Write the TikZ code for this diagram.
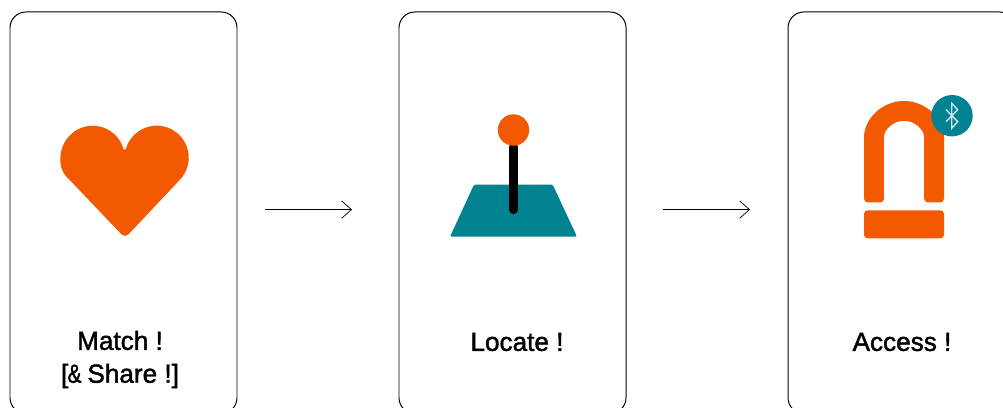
\documentclass[tikz,border=0pt]{standalone}
\usepackage{fontspec}
\setmainfont[FakeBold=1.6]{Liberation Sans}
\usetikzlibrary{arrows.meta}
\definecolor{cardorange}{HTML}{F35900}
\definecolor{cardteal}{HTML}{008291}
\definecolor{btlight}{HTML}{CDE6E9}
\tikzset{
  card/.style={draw=black,line width=0.7pt,rounded corners=11.3pt,minimum width=56.75mm,minimum height=100.4mm,inner sep=0,outer sep=0},
  cardtext/.style={align=center,font=\fontsize{18.6}{23.4}\selectfont},
  flow/.style={line width=0.5pt,-{Straight Barb[length=7pt,width=12.4pt]}}
}
\begin{document}
\begin{tikzpicture}[x=0.25mm,y=0.25mm]
\useasboundingbox (0,0) rectangle (1003,407);
%Match
\node[card] (match) at (123.5,194.2) {};
\node[cardtext] (matchtext) at (120,47.5) {Match !\\{[}\kern-0.5pt\scalebox{0.8}[1]{\&}\kern-1pt{} Share !{]}};
\fill[cardorange] (125.8,257.6) arc (165:-45:32) [rounded corners=3.5pt] -- (125,169) -- (70.1,226.6) [sharp corners] arc (225:15:32) -- cycle;
%Locate
\node[card] (locate) at (512.5,194.2) {};
\node[cardtext] (locatetext) at (517,65) {Locate !};
\fill[cardteal,rounded corners=1pt] (474,222.3) -- (552.7,222.3) -- (577,170.3) -- (450,170.3) -- cycle;
\draw[black,line width=6.6pt,line cap=round] (513.7,260) -- (513.7,197.5);
\node[circle,fill=cardorange,minimum size=31.4*0.25mm,inner sep=0] (ball) at (513.5,277) {};
%Access
\node[card] (access) at (901.5,194.2) {};
\node[cardtext] (accesstext) at (902,65) {Access !};
\fill[cardorange,rounded corners=2.5pt] (864,204.7) -- (864,266) arc (180:0:40) -- (944,204.7) -- (924.2,204.7) -- (924.2,266) arc (0:180:20.2) -- (884,204.7) -- cycle;
\fill[cardorange,rounded corners=2.5pt] (864,168.7) rectangle (944,196.7);
\node[circle,fill=cardteal,minimum size=41.4*0.25mm,inner sep=0] (badge) at (952,291.3) {};
\draw[btlight,line width=1pt] (946,285.3) -- (957.7,297.3) -- (951.7,303.7) -- (951.7,278.7) -- (957.7,285.3) -- (946,297.3);
%Arrows
\draw[flow,shorten <=7mm,shorten >=11.75mm] ([yshift=0.8mm]match.east) -- ([yshift=0.8mm]locate.west);
\draw[flow,shorten <=9.25mm,shorten >=9.5mm] ([yshift=0.8mm]locate.east) -- ([yshift=0.8mm]access.west);
\end{tikzpicture}
\end{document}
